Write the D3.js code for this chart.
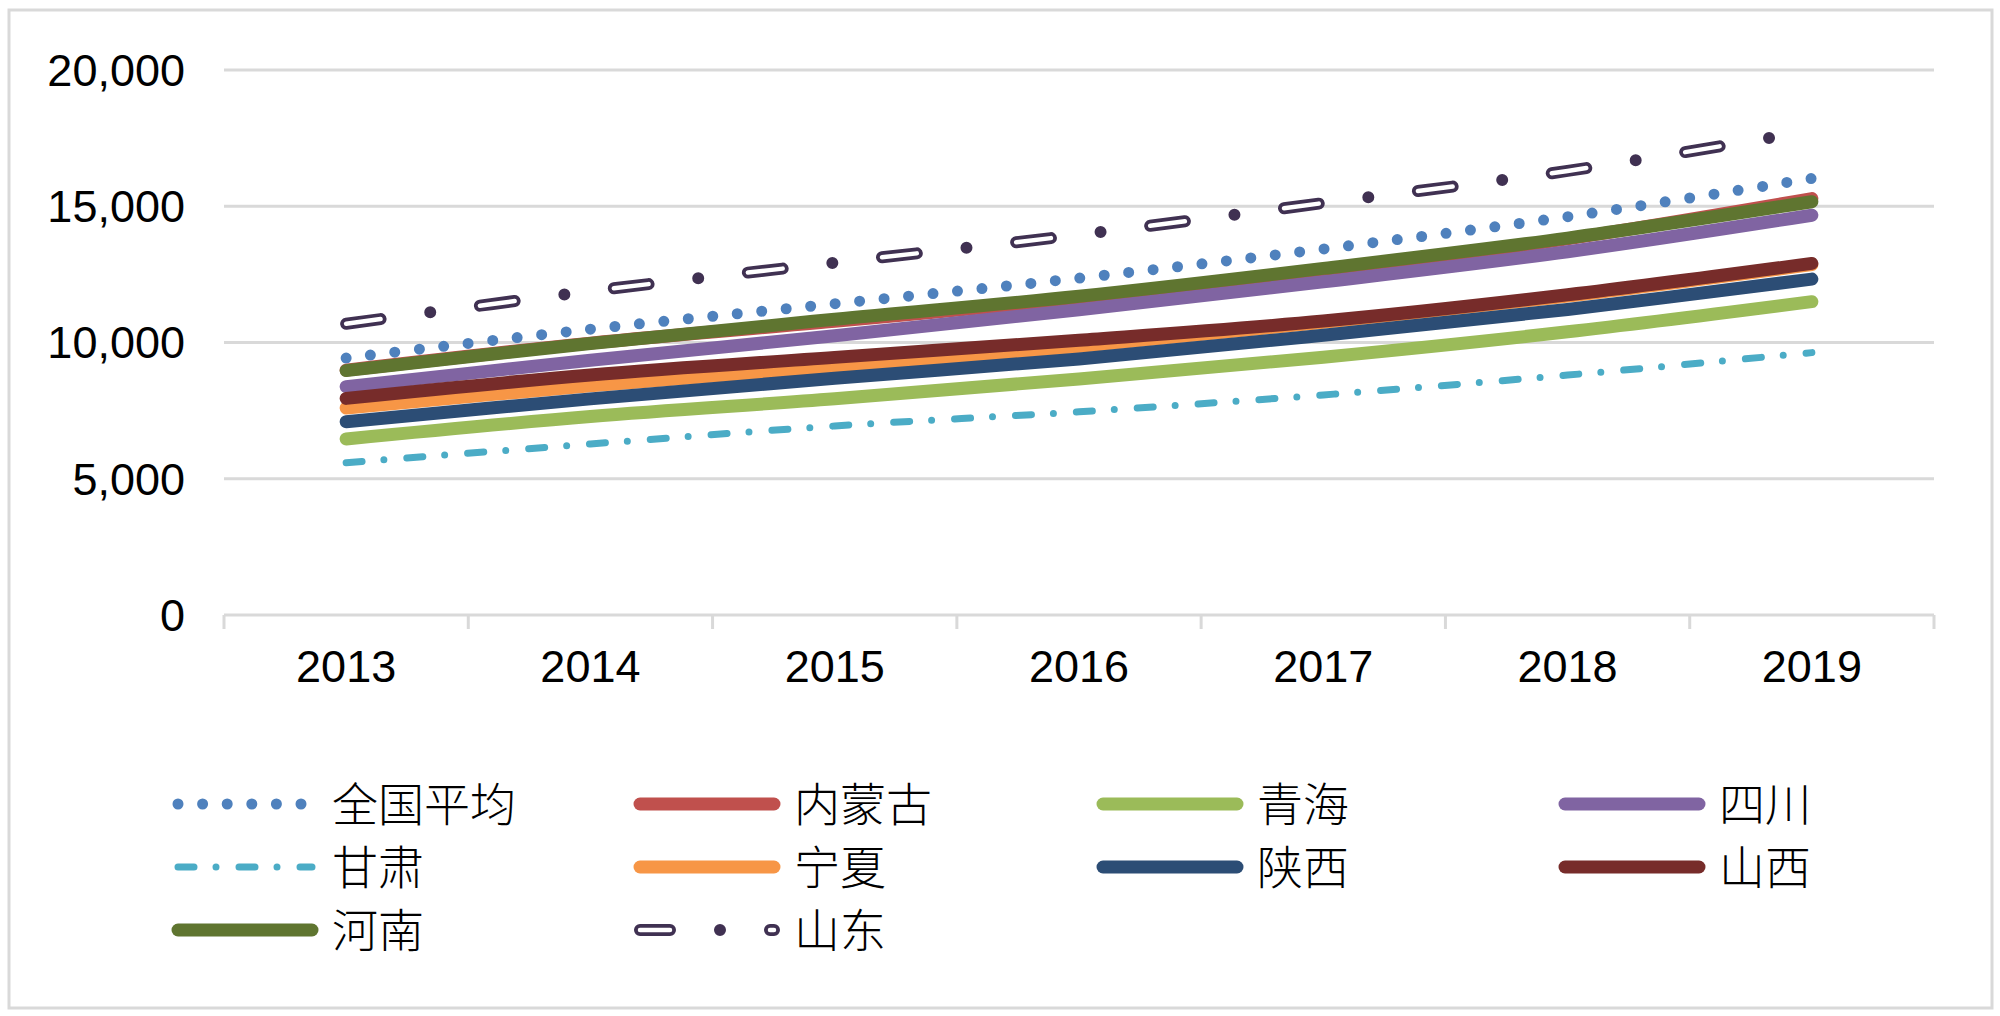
<!DOCTYPE html>
<html>
<head>
<meta charset="utf-8">
<script src="https://cdn.jsdelivr.net/npm/d3@7"></script>
<style>
  html, body { margin: 0; padding: 0; background: #fff; }
  svg { display: block; }
</style>
</head>
<body>
<div id="chart"></div>
<script>
// categories
const years = ["2013", "2014", "2015", "2016", "2017", "2018", "2019"];
const yTicks = [0, 5000, 10000, 15000, 20000];

// series names, in drawing order (last one on top)
const names = ["全国平均", "内蒙古", "青海", "四川", "甘肃", "宁夏", "陕西", "山西", "河南", "山东"];

// series values (yuan)
const nationalAvg = [9430, 10489, 11422, 12363, 13432, 14617, 16021];
const neimenggu   = [8985, 9976, 10776, 11609, 12584, 13803, 15283];
const qinghai     = [6462, 7283, 7933, 8664, 9462, 10393, 11499];
const sichuan     = [8381, 9348, 10247, 11203, 12227, 13331, 14670];
const gansu       = [5589, 6277, 6936, 7457, 8076, 8804, 9629];
const ningxia     = [7599, 8410, 9119, 9852, 10738, 11708, 12858];
const shaanxi     = [7092, 7932, 8689, 9396, 10265, 11213, 12326];
const shanxi      = [7949, 8809, 9454, 10082, 10788, 11750, 12902];
const henan       = [8969, 9966, 10853, 11697, 12719, 13831, 15164];
const shandong    = [10687, 11882, 12930, 13954, 15118, 16297, 17775];

function main(){
    const width = 2000, height = 1016;

    const svg = d3.select("#chart").append("svg")
        .attr("width", width)
        .attr("height", height);

    // outer chart border
    svg.append("rect")
        .attr("x", 9).attr("y", 10)
        .attr("width", 1983).attr("height", 998)
        .attr("fill", "#fff")
        .attr("stroke", "#d9d9d9")
        .attr("stroke-width", 3);

    const plot = {left: 224, right: 1934, top: 70, bottom: 615};

    const x = d3.scaleBand().domain(years).range([plot.left, plot.right]).padding(0);
    const xc = (d) => x(d) + x.bandwidth() / 2;
    const y = d3.scaleLinear().domain([0, 20000]).range([plot.bottom, plot.top]);

    // gridlines
    svg.append("g")
        .selectAll("line")
        .data(yTicks.filter(d => d > 0))
        .enter()
        .append("line")
            .attr("x1", plot.left).attr("x2", plot.right)
            .attr("y1", d => y(d)).attr("y2", d => y(d))
            .attr("stroke", "#d9d9d9")
            .attr("stroke-width", 3);

    // y labels
    svg.append("g")
        .selectAll("text")
        .data(yTicks)
        .enter()
        .append("text")
            .attr("x", 185)
            .attr("y", d => y(d))
            .attr("dy", "0.35em")
            .attr("text-anchor", "end")
            .attr("font-family", "'Liberation Sans', Arial, sans-serif")
            .attr("font-size", "45px")
            .attr("fill", "#000")
            .text(d => d3.format(",")(d));

    // x axis line + tick marks between categories
    svg.append("line")
        .attr("x1", plot.left).attr("x2", plot.right)
        .attr("y1", y(0)).attr("y2", y(0))
        .attr("stroke", "#d9d9d9").attr("stroke-width", 3);

    const tickPos = years.map(d => x(d)).concat([x.range()[1]]);
    svg.append("g")
        .selectAll("line")
        .data(tickPos)
        .enter()
        .append("line")
            .attr("x1", d => d).attr("x2", d => d)
            .attr("y1", y(0)).attr("y2", y(0) + 14)
            .attr("stroke", "#d9d9d9").attr("stroke-width", 3);

    svg.append("g")
        .selectAll("text")
        .data(years)
        .enter()
        .append("text")
            .attr("x", d => xc(d))
            .attr("y", 666)
            .attr("dy", "0.35em")
            .attr("text-anchor", "middle")
            .attr("font-family", "'Liberation Sans', Arial, sans-serif")
            .attr("font-size", "45px")
            .attr("fill", "#000")
            .text(d => d);

    // styles per series
    const solid = (color) => ({layers: [{color: color, width: 13, dash: null}]});
    const styles = {
        "全国平均": {layers: [{color: "#4f81bd", width: 11, dash: "0,24.6"}]},
        "内蒙古": solid("#c0504d"),
        "青海": solid("#9bbb59"),
        "四川": solid("#8064a2"),
        "甘肃": {layers: [{color: "#4bacc6", width: 7, dash: "16,22,0,23"}]},
        "宁夏": solid("#f79646"),
        "陕西": solid("#2c4d75"),
        "山西": solid("#772c2a"),
        "河南": solid("#5f7530"),
        "山东": {legendOffset: 5, layers: [
            {color: "#403152", width: 12, dash: "35,50,0,50"},
            {color: "#ffffff", width: 4.5, dash: "35,100"}
        ]}
    };

    const seriesValues = [nationalAvg, neimenggu, qinghai, sichuan, gansu, ningxia, shaanxi, shanxi, henan, shandong];
    const series = names.map((n, i) => ({name: n, values: seriesValues[i]}));

    const line = d3.line()
        .x((d, i) => xc(years[i]))
        .y(d => y(d))
        .curve(d3.curveCatmullRom.alpha(0.5));

    const lines = svg.append("g");
    series.forEach(s => {
        styles[s.name].layers.forEach(l => {
            lines.append("path")
                .attr("d", line(s.values))
                .attr("fill", "none")
                .attr("stroke", l.color)
                .attr("stroke-width", l.width)
                .attr("stroke-linecap", "round")
                .attr("stroke-linejoin", "round")
                .attr("stroke-dasharray", l.dash);
        });
    });

    // legend: 4 columns, row-major
    const legend = svg.append("g");
    const colX = [172, 634, 1097, 1559];
    const rowY = [804, 867, 930];
    series.forEach((s, i) => {
        const cx = colX[i % 4], cy = rowY[Math.floor(i / 4)];
        const st = styles[s.name];
        st.layers.forEach(l => {
            legend.append("path")
                .attr("d", d3.line()([[cx + 6, cy], [cx + 140, cy]]))
                .attr("fill", "none")
                .attr("stroke", l.color)
                .attr("stroke-width", l.width)
                .attr("stroke-linecap", "round")
                .attr("stroke-dasharray", l.dash)
                .attr("stroke-dashoffset", st.legendOffset || 0);
        });
        legend.append("text")
            .attr("x", cx + 160)
            .attr("y", cy)
            .attr("dy", "0.36em")
            .attr("font-family", "'Noto Sans CJK SC', sans-serif")
            .attr("font-weight", 300)
            .attr("font-size", "46px")
            .attr("fill", "#000")
            .text(s.name);
    });
}

window.onload = () => {
    main();
}
</script>
</body>
</html>
